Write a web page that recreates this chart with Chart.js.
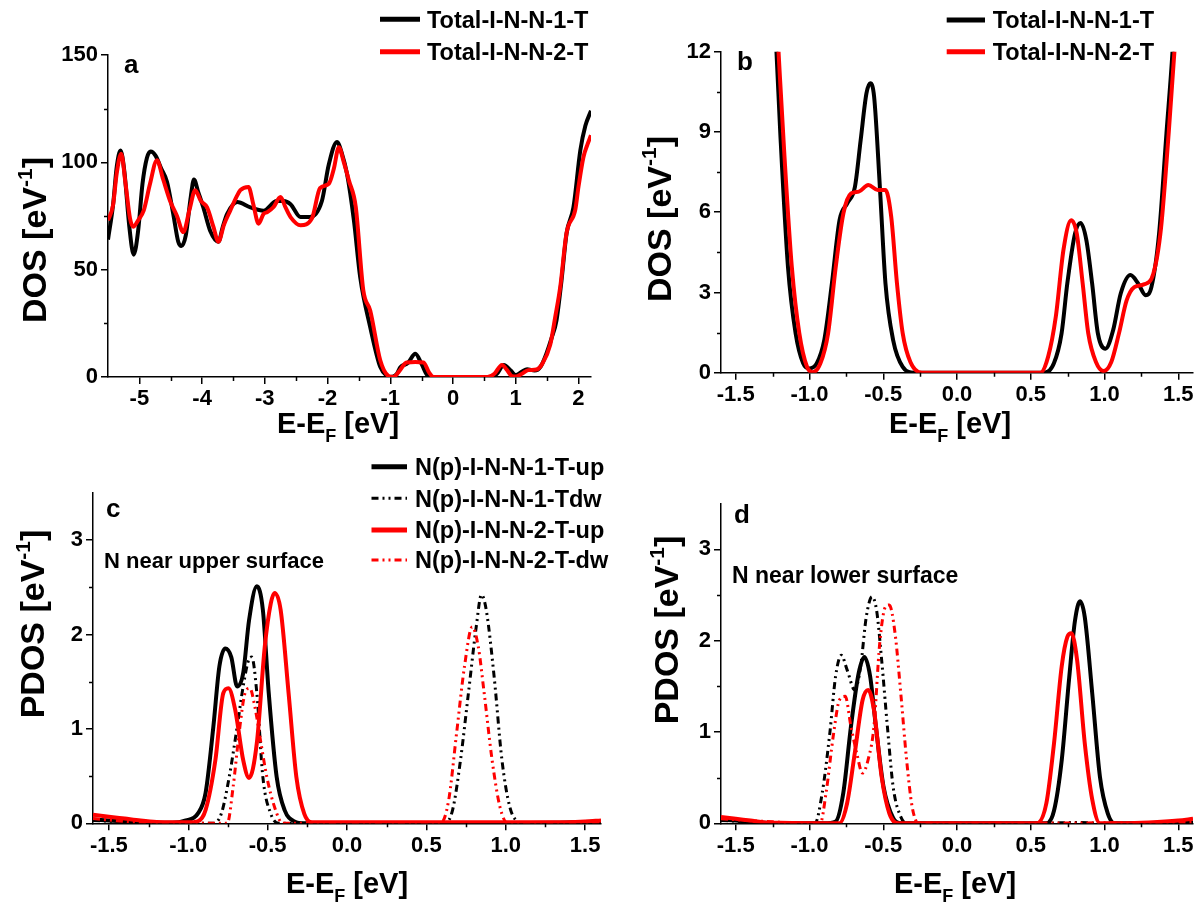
<!DOCTYPE html>
<html>
<head>
<meta charset="utf-8">
<script src="https://cdn.jsdelivr.net/npm/chart.js@4.4.0/dist/chart.umd.min.js"></script>
<style>
  html, body { margin: 0; padding: 0; background: #fff; }
  #page { position: relative; width: 1201px; height: 907px; overflow: hidden; }
  canvas { position: absolute; }
</style>
</head>
<body>
<div id="page">
  <canvas id="panelA" width="600" height="453" style="left:0;top:0"></canvas>
  <canvas id="panelB" width="601" height="453" style="left:600px;top:0"></canvas>
  <canvas id="panelC" width="615" height="454" style="left:0;top:453px"></canvas>
  <canvas id="panelD" width="601" height="454" style="left:600px;top:453px"></canvas>
</div>
<script>
// ---- (a) total DOS, wide energy window ----
const aTotal1E = [-5.5, -5.42, -5.36, -5.3, -5.24, -5.16, -5.09, -5.02, -4.95, -4.88, -4.82, -4.74, -4.65, -4.56, -4.46, -4.38, -4.33, -4.26, -4.18, -4.13, -4.06, -3.98, -3.87, -3.74, -3.67, -3.6, -3.44, -3.23, -3.02, -2.81, -2.7, -2.59, -2.43, -2.28, -2.09, -1.98, -1.85, -1.77, -1.69, -1.58, -1.48, -1.32, -1.16, -1.05, -1.0, -0.9, -0.84, -0.72, -0.6, -0.5, -0.4, -0.3, 0.6, 0.7, 0.81, 0.92, 1.0, 1.1, 1.18, 1.3, 1.4, 1.49, 1.57, 1.65, 1.73, 1.81, 1.92, 2.03, 2.11, 2.2];
const aTotal1 = [64, 80, 98, 105.5, 96, 70, 57, 68, 90, 102, 105, 103, 97, 91, 76, 63, 61, 66, 84, 92, 86, 79, 68, 63, 70, 76, 81.5, 79, 77.5, 82, 82, 80.5, 74.5, 74.5, 82, 99, 109.5, 104, 94.7, 73, 46.6, 23.3, 4.7, 0.5, 0, 1.2, 4.5, 6.5, 10.8, 6, 0.5, 0, 0, 1.5, 5.6, 3, 0.9, 2.5, 3.6, 3, 5, 11, 18, 26.4, 45, 66.8, 79, 105.6, 117, 124];
const aTotal2E = [-5.5, -5.42, -5.36, -5.29, -5.22, -5.15, -5.1, -5.02, -4.93, -4.83, -4.72, -4.62, -4.51, -4.4, -4.3, -4.2, -4.11, -4.02, -3.92, -3.82, -3.74, -3.65, -3.55, -3.45, -3.39, -3.26, -3.18, -3.1, -3.02, -2.96, -2.86, -2.75, -2.67, -2.59, -2.43, -2.25, -2.12, -1.98, -1.9, -1.82, -1.74, -1.66, -1.55, -1.43, -1.32, -1.16, -1.03, -0.95, -0.85, -0.74, -0.6, -0.47, -0.38, -0.31, 0.55, 0.66, 0.78, 0.86, 0.94, 1.0, 1.1, 1.2, 1.33, 1.42, 1.55, 1.63, 1.71, 1.81, 1.95, 2.0, 2.08, 2.14, 2.2];
const aTotal2 = [73, 80, 95, 104, 90, 74, 70, 73, 77.6, 90, 101, 92, 82, 75, 67.5, 78, 87, 82, 79, 70, 63, 71, 77.6, 84, 87, 88.5, 80, 71.4, 76, 76.8, 79.2, 83.8, 79, 74.5, 70.7, 73.8, 88, 90, 97, 107, 100, 91.6, 79.2, 40.4, 31, 7.8, 0.5, 0, 3, 6.8, 7, 6.8, 2, 0, 0, 1.5, 5.6, 3.3, 0.4, 0.2, 1.5, 3.2, 3.5, 6, 15, 28, 42, 67, 78, 88.5, 102.5, 108, 112.6];

// ---- (b) total DOS around the gap ----
const bTotal1E = [-1.6, -1.48, -1.35, -1.26, -1.224, -1.198, -1.146, -1.094, -1.043, -1.003, -0.951, -0.9, -0.848, -0.796, -0.744, -0.692, -0.653, -0.614, -0.588, -0.562, -0.523, -0.485, -0.433, -0.368, -0.29, 0.592, 0.657, 0.709, 0.748, 0.8, 0.838, 0.877, 0.916, 0.955, 1.007, 1.059, 1.11, 1.176, 1.228, 1.279, 1.318, 1.37, 1.42, 1.461, 1.5, 1.55, 1.6];
const bTotal1 = [78, 46.6, 26, 15.5, 12, 8.95, 3.96, 1.47, 0.35, 0.16, 0.35, 1.22, 3.34, 5.71, 6.33, 6.95, 8.7, 10.44, 10.82, 10.32, 6.95, 3.34, 1.22, 0.22, 0, 0, 0.35, 1.47, 3.34, 5.2, 5.6, 4.96, 3.34, 1.47, 0.9, 1.6, 2.96, 3.65, 3.34, 2.9, 3.2, 5.2, 8.95, 12, 16, 22, 30];
const bTotal2E = [-1.6, -1.48, -1.35, -1.26, -1.21, -1.172, -1.12, -1.069, -1.017, -0.978, -0.926, -0.874, -0.822, -0.77, -0.718, -0.666, -0.601, -0.537, -0.485, -0.446, -0.407, -0.368, -0.316, -0.238, 0.566, 0.618, 0.67, 0.722, 0.774, 0.812, 0.852, 0.89, 0.942, 0.994, 1.046, 1.098, 1.15, 1.202, 1.267, 1.331, 1.383, 1.435, 1.474, 1.52, 1.6];
const bTotal2 = [80, 48, 30, 17, 12, 8.3, 3.96, 1.47, 0.22, 0.02, 0.35, 1.47, 3.96, 5.96, 6.7, 6.77, 7.02, 6.83, 6.83, 5.83, 3.34, 1.47, 0.4, 0, 0, 0.6, 2.1, 4.6, 5.7, 5.2, 3.34, 1.47, 0.4, 0.06, 0.4, 1.47, 2.7, 3.2, 3.3, 3.7, 5.4, 8.95, 12, 16, 24];

// ---- (c) N(p) PDOS, N near upper surface ----
const cUp1E = [-1.6, -1.5, -1.4, -1.3, -1.2, -1.1, -1.015, -0.941, -0.891, -0.842, -0.804, -0.767, -0.729, -0.692, -0.654, -0.617, -0.568, -0.53, -0.493, -0.443, -0.393, -0.331, -0.27, 0, 0.5, 1.0, 1.3, 1.6];
const cUp1 = [0.04, 0.03, 0.02, 0.01, 0.005, 0.005, 0.03, 0.1, 0.32, 1.02, 1.66, 1.85, 1.76, 1.45, 1.59, 2.15, 2.51, 2.26, 1.38, 0.49, 0.14, 0.02, 0, 0, 0, 0, 0.005, 0.02];
const cDw1E = [-1.6, -1.3, -0.9, -0.842, -0.792, -0.742, -0.692, -0.654, -0.617, -0.6, -0.568, -0.53, -0.48, -0.43, 0, 0.57, 0.615, 0.665, 0.715, 0.765, 0.814, 0.847, 0.877, 0.927, 0.976, 1.026, 1.076, 1.12, 1.6];
const cDw1 = [0.03, 0.01, 0, 0, 0.1, 0.49, 1.02, 1.45, 1.74, 1.76, 1.38, 0.49, 0.1, 0, 0, 0, 0, 0.14, 0.67, 1.38, 2.08, 2.42, 2.26, 1.55, 0.67, 0.17, 0.02, 0, 0];
const cUp2E = [-1.6, -1.5, -1.4, -1.3, -1.2, -1.1, -1.0, -0.941, -0.891, -0.829, -0.779, -0.747, -0.704, -0.654, -0.617, -0.568, -0.518, -0.48, -0.456, -0.418, -0.368, -0.319, -0.269, -0.22, 0, 0.5, 1.0, 1.3, 1.5, 1.6];
const cUp2 = [0.09, 0.07, 0.05, 0.03, 0.015, 0.01, 0.01, 0.02, 0.14, 0.67, 1.38, 1.43, 1.2, 0.67, 0.48, 0.85, 1.87, 2.33, 2.44, 2.26, 1.38, 0.49, 0.1, 0.01, 0.01, 0.01, 0.01, 0.01, 0.02, 0.03];
const cDw2E = [-1.6, -1.3, -0.8, -0.754, -0.717, -0.68, -0.642, -0.612, -0.58, -0.542, -0.505, -0.456, -0.406, 0, 0.55, 0.59, 0.64, 0.69, 0.74, 0.789, 0.827, 0.864, 0.914, 0.964, 1.013, 1.6];
const cDw2 = [0.05, 0.01, 0, 0, 0.39, 0.95, 1.38, 1.43, 1.23, 0.85, 0.49, 0.17, 0, 0, 0, 0, 0.24, 0.95, 1.66, 2.08, 1.87, 1.38, 0.67, 0.17, 0, 0.01];

// ---- (d) N(p) PDOS, N near lower surface ----
const dUp1E = [-1.6, -1.5, -1.4, -1.3, -1.2, -0.9, -0.823, -0.771, -0.719, -0.667, -0.628, -0.589, -0.55, -0.498, -0.433, -0.38, 0, 0.55, 0.606, 0.658, 0.71, 0.761, 0.8, 0.834, 0.866, 0.917, 0.969, 1.022, 1.07, 1.6];
const dUp1 = [0.04, 0.03, 0.015, 0.005, 0, 0, 0.02, 0.33, 1.06, 1.64, 1.82, 1.61, 1.06, 0.4, 0.06, 0, 0, 0, 0, 0.14, 0.69, 1.6, 2.22, 2.43, 2.26, 1.42, 0.51, 0.11, 0, 0.01];
const dDw1E = [-1.6, -1.3, -1.0, -0.963, -0.914, -0.862, -0.823, -0.784, -0.745, -0.693, -0.654, -0.615, -0.576, -0.545, -0.511, -0.472, -0.433, -0.381, -0.34, 0, 0.6, 0.8, 1.0, 1.6];
const dDw1 = [0.03, 0.01, 0, 0, 0.33, 0.99, 1.61, 1.84, 1.68, 1.46, 1.71, 2.26, 2.48, 2.33, 1.79, 1.06, 0.4, 0.07, 0, 0, 0, 0.01, 0, 0];
const dUp2E = [-1.6, -1.5, -1.4, -1.3, -1.2, -0.85, -0.797, -0.745, -0.693, -0.64, -0.602, -0.563, -0.511, -0.459, -0.4, 0, 0.5, 0.541, 0.606, 0.658, 0.71, 0.748, 0.775, 0.814, 0.866, 0.917, 0.969, 1.02, 1.3, 1.5, 1.6];
const dUp2 = [0.07, 0.05, 0.03, 0.01, 0.005, 0, 0, 0.22, 0.77, 1.35, 1.46, 1.24, 0.51, 0.11, 0, 0, 0, 0, 0.22, 0.88, 1.72, 2.04, 2.08, 1.79, 0.88, 0.26, 0, 0, 0.01, 0.03, 0.05];
const dDw2E = [-1.6, -1.3, -0.96, -0.927, -0.888, -0.836, -0.797, -0.758, -0.719, -0.68, -0.641, -0.602, -0.563, -0.524, -0.485, -0.459, -0.42, -0.381, -0.342, -0.304, -0.26, 0, 1.6];
const dDw2 = [0.05, 0.02, 0, 0, 0.33, 0.99, 1.35, 1.39, 1.06, 0.77, 0.55, 0.7, 1.06, 1.97, 2.37, 2.39, 2.08, 1.42, 0.7, 0.18, 0, 0, 0.01];

// axis ticks
const aTicksX = [-5, -4, -3, -2, -1, 0, 1, 2];
const aTicksY = [0, 50, 100, 150];
const gapTicksX = [-1.5, -1.0, -0.5, 0.0, 0.5, 1.0, 1.5];
const bTicksY = [0, 3, 6, 9, 12];
const pdosTicksY = [0, 1, 2, 3];

const FONT = "'Liberation Sans', Arial, Helvetica, sans-serif";
const DASH_DOT_DOT = [7, 4, 2, 4, 2, 4];

function pairs(xs, ys) {
    return xs.map((x, i) => ({ x: x, y: ys[i] }));
}

function solid(label, color, xs, ys, order) {
    return { label, data: pairs(xs, ys), borderColor: color, borderWidth: 4, order };
}

function dotted(label, color, xs, ys, order) {
    return { label, data: pairs(xs, ys), borderColor: color, borderWidth: 3, borderDash: DASH_DOT_DOT, order };
}

// text with an optional sub/superscript piece, centred on (cx, cy)
function richText(ctx, parts, size, cx, cy, angle) {
    ctx.save();
    ctx.translate(cx, cy);
    if (angle) ctx.rotate(angle);
    const fontFor = p => `bold ${p[1] ? Math.round(size * 0.62) : size}px ${FONT}`;
    const widths = parts.map(p => { ctx.font = fontFor(p); return ctx.measureText(p[0]).width; });
    let x = -widths.reduce((s, w) => s + w, 0) / 2;
    ctx.fillStyle = '#000';
    ctx.textAlign = 'left';
    ctx.textBaseline = 'alphabetic';
    parts.forEach((p, i) => {
        ctx.font = fontFor(p);
        let dy = 0;
        if (p[1] === 'sup') dy = -size * 0.42;
        if (p[1] === 'sub') dy = size * 0.3;
        ctx.fillText(p[0], x, size * 0.36 + dy);
        x += widths[i];
    });
    ctx.restore();
}

// minor ticks, legend, axis titles and panel notes
const panelDecor = {
    id: 'panelDecor',
    afterDraw(chart, args, opts) {
        const ctx = chart.ctx;
        const area = chart.chartArea;
        const xs = chart.scales.x, ys = chart.scales.y;
        ctx.save();
        ctx.strokeStyle = '#000';
        ctx.lineWidth = 1.5;
        ctx.beginPath();
        (opts.minorX || []).forEach(v => {
            const px = Math.round(xs.getPixelForValue(v)) + 0.5;
            ctx.moveTo(px, area.bottom);
            ctx.lineTo(px, area.bottom + 4);
        });
        (opts.minorY || []).forEach(v => {
            const py = Math.round(ys.getPixelForValue(v)) + 0.5;
            ctx.moveTo(area.left - 4, py);
            ctx.lineTo(area.left, py);
        });
        ctx.stroke();

        const lg = opts.legend;
        if (lg) {
            chart.data.datasets.forEach((ds, i) => {
                const y = lg.rows[i];
                ctx.strokeStyle = ds.borderColor;
                ctx.lineWidth = ds.borderDash ? 3 : 5;
                ctx.setLineDash(ds.borderDash || []);
                ctx.beginPath();
                ctx.moveTo(lg.x1, y);
                ctx.lineTo(lg.x2, y);
                ctx.stroke();
                ctx.setLineDash([]);
                ctx.fillStyle = '#000';
                ctx.font = `bold ${lg.size}px ${FONT}`;
                ctx.textAlign = 'left';
                ctx.textBaseline = 'alphabetic';
                ctx.fillText(ds.label, lg.text, y + lg.size * 0.36);
            });
        }

        (opts.notes || []).forEach(n => {
            ctx.fillStyle = '#000';
            ctx.font = `bold ${n.size}px ${FONT}`;
            ctx.textAlign = 'left';
            ctx.textBaseline = 'alphabetic';
            ctx.fillText(n.text, n.x, n.y);
        });

        const xt = opts.xTitle, yt = opts.yTitle;
        richText(ctx, [['E-E'], ['F', 'sub'], [' [eV]']], 29, xt[0], xt[1], 0);
        richText(ctx, [[yt[2] + ' [eV'], ['-1', 'sup'], [']']], 34, yt[0], yt[1], -Math.PI / 2);
        ctx.restore();
    }
};

function makePanel(id, datasets, ax, box, decor) {
    const canvas = document.getElementById(id);
    const W = canvas.width, H = canvas.height;
    const yAxisW = 60, xAxisH = 40;
    const tickFont = { family: FONT, size: 22, weight: 'bold' };
    return new Chart(canvas.getContext('2d'), {
        type: 'line',
        data: { datasets },
        options: {
            responsive: false,
            animation: false,
            events: [],
            layout: {
                padding: {
                    left: box.left - yAxisW,
                    top: box.top,
                    right: W - box.right,
                    bottom: H - box.bottom - xAxisH
                }
            },
            elements: {
                point: { radius: 0 },
                line: { cubicInterpolationMode: 'monotone', borderJoinStyle: 'round', borderCapStyle: 'butt' }
            },
            scales: {
                x: {
                    type: 'linear',
                    min: ax.xMin, max: ax.xMax,
                    afterFit: s => { s.height = xAxisH; },
                    afterBuildTicks: s => { s.ticks = ax.xTicks.map(v => ({ value: v })); },
                    border: { display: true, color: '#000', width: 1.5 },
                    grid: { drawOnChartArea: false, drawTicks: true, tickLength: 7, color: '#000', lineWidth: 1.5 },
                    ticks: {
                        font: tickFont, color: '#000', padding: 2, maxRotation: 0, autoSkip: false,
                        callback: v => ax.xFmt(v)
                    }
                },
                y: {
                    type: 'linear',
                    min: ax.yMin, max: ax.yMax,
                    afterFit: s => { s.width = yAxisW; },
                    afterBuildTicks: s => { s.ticks = ax.yTicks.map(v => ({ value: v })); },
                    border: { display: true, color: '#000', width: 1.5 },
                    grid: { drawOnChartArea: false, drawTicks: true, tickLength: 7, color: '#000', lineWidth: 1.5 },
                    ticks: {
                        font: tickFont, color: '#000', padding: 3, autoSkip: false,
                        callback: v => String(v)
                    }
                }
            },
            plugins: {
                legend: { display: false },
                tooltip: { enabled: false },
                panelDecor: decor
            }
        },
        plugins: [panelDecor]
    });
}

const intFmt = v => String(v);
const oneDec = v => v.toFixed(1);
const gapMinorX = [-1.25, -0.75, -0.25, 0.25, 0.75, 1.25];

makePanel('panelA', [
    solid('Total-I-N-N-1-T', '#000', aTotal1E, aTotal1, 2),
    solid('Total-I-N-N-2-T', '#ff0000', aTotal2E, aTotal2, 1)
], { xMin: -5.5, xMax: 2.2, yMin: 0, yMax: 150, xTicks: aTicksX, yTicks: aTicksY, xFmt: intFmt },
{ left: 108, top: 55, right: 591, bottom: 377 },
{
    minorX: [-4.5, -3.5, -2.5, -1.5, -0.5, 0.5, 1.5],
    minorY: [25, 75, 125],
    legend: { x1: 380, x2: 420, text: 427, rows: [19.3, 51.7], size: 23.5 },
    notes: [{ text: 'a', x: 124, y: 73, size: 26 }],
    xTitle: [338, 423],
    yTitle: [34, 240, 'DOS']
});

makePanel('panelB', [
    solid('Total-I-N-N-1-T', '#000', bTotal1E, bTotal1, 2),
    solid('Total-I-N-N-2-T', '#ff0000', bTotal2E, bTotal2, 1)
], { xMin: -1.6, xMax: 1.6, yMin: 0, yMax: 12, xTicks: gapTicksX, yTicks: bTicksY, xFmt: oneDec },
{ left: 121, top: 51.7, right: 593, bottom: 372.7 },
{
    minorX: gapMinorX,
    minorY: [1.5, 4.5, 7.5, 10.5],
    legend: { x1: 346.7, x2: 385, text: 392.7, rows: [20, 51.7], size: 23.5 },
    notes: [{ text: 'b', x: 137, y: 70, size: 26 }],
    xTitle: [350, 423],
    yTitle: [58.5, 219, 'DOS']
});

makePanel('panelC', [
    solid('N(p)-I-N-N-1-T-up', '#000', cUp1E, cUp1, 4),
    dotted('N(p)-I-N-N-1-Tdw', '#000', cDw1E, cDw1, 3),
    solid('N(p)-I-N-N-2-T-up', '#ff0000', cUp2E, cUp2, 2),
    dotted('N(p)-I-N-N-2-T-dw', '#ff0000', cDw2E, cDw2, 1)
], { xMin: -1.6, xMax: 1.6, yMin: 0, yMax: 3.5, xTicks: gapTicksX, yTicks: pdosTicksY, xFmt: oneDec },
{ left: 93, top: 39.8, right: 601, bottom: 370.3 },
{
    minorX: gapMinorX,
    minorY: [0.5, 1.5, 2.5],
    legend: { x1: 371.5, x2: 407, text: 415, rows: [13.7, 45.3, 77, 107], size: 23.5 },
    notes: [
        { text: 'c', x: 106, y: 64, size: 26 },
        { text: 'N near upper surface', x: 104, y: 115, size: 22 }
    ],
    xTitle: [347, 430],
    yTitle: [31.6, 171, 'PDOS']
});

makePanel('panelD', [
    solid('N(p)-I-N-N-1-T-up', '#000', dUp1E, dUp1, 4),
    dotted('N(p)-I-N-N-1-Tdw', '#000', dDw1E, dDw1, 3),
    solid('N(p)-I-N-N-2-T-up', '#ff0000', dUp2E, dUp2, 2),
    dotted('N(p)-I-N-N-2-T-dw', '#ff0000', dDw2E, dDw2, 1)
], { xMin: -1.6, xMax: 1.6, yMin: 0, yMax: 3.5, xTicks: gapTicksX, yTicks: pdosTicksY, xFmt: oneDec },
{ left: 121, top: 50.6, right: 593, bottom: 370.3 },
{
    minorX: gapMinorX,
    minorY: [0.5, 1.5, 2.5],
    notes: [
        { text: 'd', x: 134, y: 70, size: 26 },
        { text: 'N near lower surface', x: 132, y: 130, size: 23 }
    ],
    xTitle: [355, 430],
    yTitle: [66, 177, 'PDOS']
});
</script>
</body>
</html>
